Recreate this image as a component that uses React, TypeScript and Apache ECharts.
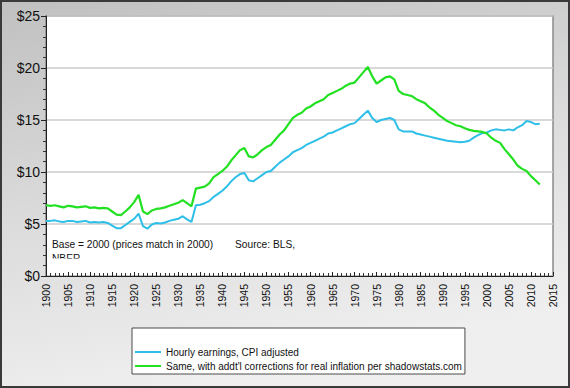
import React, { useEffect, useRef } from "react";
import * as echarts from "echarts";

const years: number[] = [];
for (let y = 1900; y <= 2012; y++) years.push(y);

const hourlyCpi: number[] = [
  5.3, 5.3, 5.35, 5.25, 5.2, 5.3, 5.3, 5.2, 5.25, 5.3,
  5.15, 5.2, 5.15, 5.2, 5.1, 4.85, 4.6, 4.6, 4.9, 5.2,
  5.5, 6.0, 4.8, 4.55, 4.95, 5.1, 5.05, 5.15, 5.3, 5.4,
  5.5, 5.75, 5.45, 5.2, 6.8, 6.85, 7.0, 7.2, 7.6, 7.9,
  8.2, 8.6, 9.1, 9.5, 9.8, 9.9, 9.2, 9.1, 9.4, 9.7,
  10.0, 10.1, 10.5, 10.9, 11.2, 11.5, 11.9, 12.1, 12.3, 12.6,
  12.8, 13.0, 13.2, 13.4, 13.7, 13.8, 14.0, 14.2, 14.4, 14.6,
  14.7, 15.1, 15.5, 15.9, 15.2, 14.8, 15.0, 15.1, 15.2, 15.0,
  14.1, 13.9, 13.9, 13.9, 13.7, 13.6, 13.5, 13.4, 13.3, 13.2,
  13.1, 13.0, 12.95, 12.9, 12.85, 12.9, 13.0, 13.3, 13.55, 13.75,
  13.8, 14.0, 14.1, 14.05, 14.0, 14.1, 14.0, 14.3, 14.5, 14.9,
  14.8, 14.6, 14.65,
];

const hourlyShadow: number[] = [
  6.8, 6.75, 6.8, 6.7, 6.6, 6.75, 6.7, 6.6, 6.65, 6.7,
  6.55, 6.6, 6.5, 6.55, 6.5, 6.2, 5.9, 5.85, 6.2, 6.6,
  7.1, 7.8, 6.2, 5.95, 6.3, 6.45, 6.5, 6.6, 6.75, 6.9,
  7.05, 7.3, 7.0, 6.7, 8.4, 8.5, 8.6, 8.9, 9.5, 9.8,
  10.1, 10.5, 11.1, 11.6, 12.1, 12.3, 11.5, 11.4, 11.7, 12.1,
  12.4, 12.6, 13.1, 13.6, 14.0, 14.6, 15.2, 15.5, 15.7, 16.1,
  16.3, 16.6, 16.8, 17.0, 17.4, 17.6, 17.8, 18.0, 18.3, 18.5,
  18.6, 19.1, 19.6, 20.1, 19.2, 18.5, 18.8, 19.1, 19.2, 18.9,
  17.8, 17.5, 17.4, 17.3, 17.0, 16.8, 16.6, 16.2, 15.9, 15.5,
  15.2, 14.9, 14.7, 14.5, 14.4, 14.2, 14.05, 13.95, 13.9, 13.85,
  13.7, 13.3, 13.0, 12.8, 12.2, 11.7, 11.2, 10.6, 10.3, 10.1,
  9.6, 9.2, 8.8,
];

const seriesNames = [
  "Hourly earnings, CPI adjusted",
  "Same, with addt'l corrections for real inflation per shadowstats.com",
];
const noteText = "Base = 2000 (prices match in 2000)";
const sourceText = "Source: BLS,";
const sourceText2 = "NBER";

export default function App() {
  const ref = useRef<HTMLDivElement>(null);
  useEffect(() => {
    if (!ref.current) return;
    const chart = echarts.init(ref.current, undefined, { renderer: "svg" });
    const font = "Arial, 'Liberation Sans', sans-serif";
    chart.setOption({
      animation: false,
      backgroundColor: {
        type: "linear",
        x: 0,
        y: 0,
        x2: 0.3,
        y2: 1,
        colorStops: [
          { offset: 0, color: "#c0c0c0" },
          { offset: 0.55, color: "#dcdcdc" },
          { offset: 1, color: "#efefef" },
        ],
      },
      grid: {
        left: 46,
        top: 16,
        right: 17,
        bottom: 112,
        show: true,
        backgroundColor: "#ffffff",
        borderColor: "#8a8a8a",
        borderWidth: 1.5,
      },
      legend: {
        orient: "vertical",
        left: 132,
        top: 328,
        backgroundColor: "#ffffff",
        borderColor: "#4a4a4a",
        borderWidth: 1,
        padding: [19, 3, 3, 3],
        itemGap: 4,
        itemWidth: 26,
        itemHeight: 12,
        icon: "path://M0,0h26v2h-26z",
        textStyle: { fontFamily: font, fontSize: 10, color: "#111" },
        data: seriesNames,
      },
      xAxis: {
        type: "value",
        min: 1900,
        max: 2015,
        interval: 5,
        axisLine: { show: true, onZero: false, lineStyle: { color: "#222", width: 1 } },
        axisTick: { show: true, inside: true, length: 4, lineStyle: { color: "#222" } },
        minorTick: { show: true, splitNumber: 5, length: 3, lineStyle: { color: "#333" } },
        splitLine: { show: false },
        axisLabel: {
          rotate: 90,
          margin: 8,
          fontFamily: font,
          fontSize: 10.5,
          color: "#111",
          formatter: (v: number) => String(v),
        },
      },
      yAxis: {
        type: "value",
        min: 0,
        max: 25,
        interval: 5,
        axisLine: { show: true, lineStyle: { color: "#222", width: 1 } },
        axisTick: { show: true, length: 5, lineStyle: { color: "#222" } },
        minorTick: { show: true, splitNumber: 5, length: 3, lineStyle: { color: "#333" } },
        splitLine: { show: true, lineStyle: { color: "#cccccc", width: 1.5 } },
        axisLabel: {
          margin: 6,
          fontFamily: font,
          fontSize: 14,
          color: "#111",
          formatter: (v: number) => "$" + v,
        },
      },
      graphic: [
        {
          type: "rect",
          silent: true,
          shape: { x: 1, y: 1, width: 568, height: 386 },
          style: { fill: "none", stroke: "#3a3a3a", lineWidth: 2 },
          z: 100,
        },
        {
          type: "text",
          x: 52,
          y: 239,
          style: { text: noteText, fontFamily: font, fontSize: 10.2, fill: "#111" },
          z: 50,
        },
        {
          type: "text",
          x: 235,
          y: 239,
          style: { text: sourceText, fontFamily: font, fontSize: 10.2, fill: "#111" },
          z: 50,
        },
        {
          type: "text",
          x: 52,
          y: 253,
          style: { text: sourceText2, fontFamily: font, fontSize: 10.2, fill: "#111" },
          z: 50,
        },
        {
          type: "rect",
          silent: true,
          shape: { x: 50, y: 258.5, width: 40, height: 8 },
          style: { fill: "#ffffff" },
          z: 51,
        },
      ],
      series: [
        {
          name: seriesNames[0],
          type: "line",
          symbol: "none",
          data: years.map((y, i) => [y, hourlyCpi[i]]),
          lineStyle: { color: "#2ebfe8", width: 2 },
          itemStyle: { color: "#2ebfe8" },
          z: 3,
        },
        {
          name: seriesNames[1],
          type: "line",
          symbol: "none",
          data: years.map((y, i) => [y, hourlyShadow[i]]),
          lineStyle: { color: "#22e022", width: 2.2 },
          itemStyle: { color: "#22e022" },
          z: 4,
        },
      ],
    });
    return () => chart.dispose();
  }, []);
  return (
    <div
      ref={ref}
      style={{ position: "fixed", left: 0, top: 0, width: 570, height: 388 }}
    />
  );
}
